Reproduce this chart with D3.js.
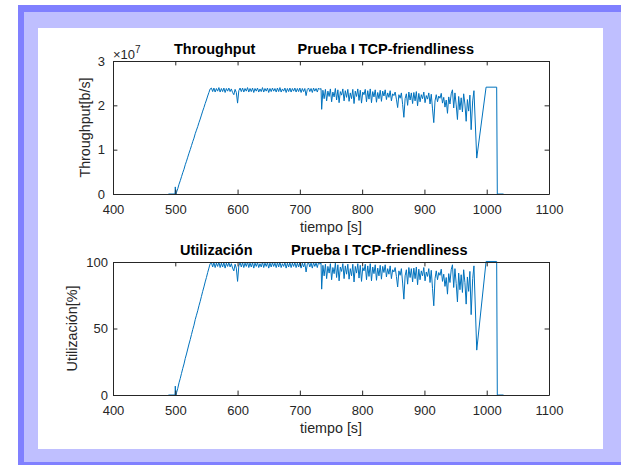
<!DOCTYPE html>
<html>
<head>
<meta charset="utf-8">
<script src="https://cdn.jsdelivr.net/npm/d3@7"></script>
<style>
  html, body { margin: 0; padding: 0; background: #fff; }
  svg { display: block; font-family: "Liberation Sans", Arial, Helvetica, sans-serif; }
</style>
</head>
<body>
<svg id="fig" width="621" height="465"></svg>
<script>
// Measured throughput of the TCP-friendliness test (time in s, rate in Mb/s)
const tiempo = [
  489, 499.5, 500, 501, 502, 504, 506, 508, 510, 512,
  514, 516, 518, 520, 522, 524, 526, 528, 530, 532,
  534, 536, 538, 540, 542, 544, 546, 548, 550, 552,
  554, 556, 558, 560, 562, 564, 566, 568, 570, 572,
  574, 576, 578, 580, 582, 584, 586, 588, 590, 592,
  594, 596, 598, 600, 602, 604, 606, 608, 610, 612,
  614, 616, 618, 620, 622, 624, 626, 628, 630, 632,
  634, 636, 638, 640, 642, 644, 646, 648, 650, 652,
  654, 656, 658, 660, 662, 664, 666, 668, 670, 672,
  674, 676, 678, 680, 682, 684, 686, 688, 690, 692,
  694, 696, 698, 700, 702, 704, 706, 708, 710, 712,
  714, 716, 718, 720, 722, 724, 726, 728, 730, 732,
  734, 735, 737, 739, 741, 743, 745, 747, 749, 751,
  753, 755, 757, 759, 761, 763, 765, 767, 769, 771,
  773, 775, 777, 779, 781, 783, 785, 787, 789, 791,
  793, 795, 797, 799, 801, 803, 805, 807, 809, 811,
  813, 815, 817, 819, 821, 823, 825, 827, 829, 831,
  833, 835, 837, 839, 841, 843, 845, 847, 849, 851,
  853, 855, 857, 859, 861, 863, 865, 867, 869, 871,
  873, 875, 877, 879, 881, 883, 885, 887, 889, 891,
  893, 895, 897, 899, 901, 903, 905, 907, 909, 911,
  913, 915, 917, 919, 921, 923, 925, 927, 929, 931,
  933, 935, 937, 939, 941, 943, 945, 947, 949, 951,
  953, 955, 957, 959, 961, 963, 965, 967, 969, 971,
  973, 975, 977.5, 979.5, 984, 999, 1016, 1017, 1027
];
const throughputMbps = [
  0, 0, 1.6, 0, 0.4, 1.2, 2.2, 3.0, 3.9, 4.8,
  5.6, 6.6, 7.4, 8.3, 9.2, 10.0, 10.9, 11.8, 12.6, 13.6,
  14.4, 15.2, 16.1, 16.9, 17.8, 18.7, 19.5, 20.4, 21.2, 22.1,
  22.9, 23.7, 23.9, 23.1, 23.9, 23.0, 23.8, 23.2, 24.0, 23.0,
  23.8, 23.1, 23.9, 22.9, 23.8, 23.2, 23.9, 23.1, 23.7, 22.9,
  22.4, 23.6, 22.9, 20.5, 23.3, 23.9, 23.1, 23.9, 23.0, 23.8,
  23.2, 24.0, 23.0, 23.8, 23.1, 23.9, 22.9, 23.8, 23.2, 23.9,
  23.0, 23.7, 23.1, 24.0, 23.0, 23.8, 23.2, 23.9, 22.9, 23.8,
  23.1, 23.9, 23.2, 23.8, 23.0, 23.9, 23.1, 24.0, 23.0, 23.7,
  23.2, 23.9, 22.9, 23.8, 23.1, 23.9, 23.0, 23.8, 23.2, 23.9,
  23.0, 23.8, 23.1, 23.9, 22.9, 23.8, 23.1, 23.8, 22.2, 23.6,
  23.9, 23.1, 23.8, 22.9, 23.9, 23.2, 23.8, 23.0, 23.9, 23.6,
  23.8, 19.1, 23.4, 21.5, 23.6, 21.0, 23.2, 22.0, 23.7, 20.8,
  23.0, 21.9, 23.8, 21.2, 23.5, 20.6, 23.1, 22.3, 23.7, 21.0,
  23.3, 21.8, 23.6, 20.9, 22.8, 21.5, 23.6, 20.4, 23.2, 22.0,
  23.7, 21.1, 23.4, 20.5, 23.0, 22.4, 23.6, 20.8, 23.3, 21.4,
  23.7, 20.6, 23.1, 21.9, 23.5, 20.7, 22.9, 21.5, 23.4, 20.9,
  23.2, 22.1, 23.5, 21.3, 22.8, 21.8, 23.3, 21.0, 22.6, 22.2,
  23.0, 21.4, 19.5, 22.4, 21.6, 22.8, 20.2, 17.3, 21.5, 22.6,
  20.0, 23.0, 21.2, 22.8, 20.4, 22.9, 21.0, 23.1, 19.9, 22.7,
  20.8, 22.4, 21.5, 23.0, 20.6, 22.2, 21.4, 22.8, 20.3, 22.5,
  19.2, 16.1, 21.0, 22.4, 20.8, 22.1, 21.6, 22.7, 20.5, 21.8,
  19.6, 21.2, 18.2, 21.9, 20.3, 22.6, 23.5, 19.4, 22.8, 20.1,
  16.8, 22.0, 19.0, 21.7, 18.5, 22.6, 20.3, 16.4, 21.3, 18.7,
  22.3, 14.5, 21.0, 23.3, 8.1, 24.1, 24.1, 0, 0
];
// Link capacity used for the utilisation plot
const capacidadMbps = 24;

const xTicks = [400, 500, 600, 700, 800, 900, 1000, 1100];
const yTicksThroughput = [0, 1e7, 2e7, 3e7];
const yTicksUtil = [0, 50, 100];

const serie = tiempo.map((t, i) => ({ t, bps: throughputMbps[i] * 1e6, util: throughputMbps[i] / capacidadMbps * 100 }));

const ink = "#262626";
const svg = d3.select("#fig");

// figure frame
svg.append("rect").attr("x", 18).attr("y", 5).attr("width", 603).attr("height", 460).attr("fill", "#8080ff");
svg.append("rect").attr("x", 24).attr("y", 12).attr("width", 597).attr("height", 450).attr("fill", "#bfbfff");
svg.append("rect").attr("x", 38).attr("y", 28).attr("width", 565).attr("height", 421).attr("fill", "#ffffff");

const x = d3.scaleLinear().domain([400, 1100]).range([113, 549]);
const tick = 4.4;

const panels = [
  { top: 61, bottom: 194, domain: [0, 3e7], ticks: yTicksThroughput, fmt: d => String(d / 1e7), key: "bps",
    title: ["Throughput", "Prueba I TCP-friendliness"], titleX: [174, 297.5],
    ylabel: "Throughput[b/s]", ylabelX: 90, ypad: 8 },
  { top: 262, bottom: 395, domain: [0, 100], ticks: yTicksUtil, fmt: d => String(d), key: "util",
    title: ["Utilización", "Prueba I TCP-friendliness"], titleX: [180, 291],
    ylabel: "Utilización[%]", ylabelX: 77, ypad: 5 }
];

function styleAxis(g) {
  g.select(".domain").attr("stroke", ink).attr("stroke-width", 1);
  g.selectAll(".tick line").attr("stroke", ink).attr("stroke-width", 1);
  g.selectAll(".tick text").attr("fill", ink).attr("font-size", 13);
  g.attr("font-family", null);
}

panels.forEach((p, k) => {
  const y = d3.scaleLinear().domain(p.domain).range([p.bottom, p.top]);
  const g = svg.append("g");

  const clipId = "clip" + k;
  g.append("clipPath").attr("id", clipId)
    .append("rect").attr("x", 112).attr("y", p.top - 1.5).attr("width", 438).attr("height", p.bottom - p.top + 3);

  g.append("path")
    .datum(serie)
    .attr("clip-path", `url(#${clipId})`)
    .attr("fill", "none")
    .attr("stroke", "#0072bd")
    .attr("stroke-width", 1)
    .attr("stroke-linejoin", "round")
    .attr("d", d3.line().x(d => x(d.t)).y(d => y(d[p.key])));

  g.append("g").attr("transform", `translate(0,${p.bottom})`)
    .call(d3.axisBottom(x).tickValues(xTicks).tickSize(-tick).tickSizeOuter(0).tickPadding(11).tickFormat(d3.format("d")))
    .call(styleAxis);
  g.append("g").attr("transform", `translate(0,${p.top})`)
    .call(d3.axisTop(x).tickValues(xTicks).tickSize(-tick).tickSizeOuter(0).tickFormat(""))
    .call(styleAxis);
  g.append("g").attr("transform", `translate(113,0)`)
    .call(d3.axisLeft(y).tickValues(p.ticks).tickSize(-tick).tickSizeOuter(0).tickPadding(p.ypad).tickFormat(p.fmt))
    .call(styleAxis);
  g.append("g").attr("transform", `translate(549,0)`)
    .call(d3.axisRight(y).tickValues(p.ticks).tickSize(-tick).tickSizeOuter(0).tickFormat(""))
    .call(styleAxis);

  // titles
  p.title.forEach((s, i) => {
    g.append("text").attr("x", p.titleX[i]).attr("y", p.top - 7)
      .attr("font-size", 14.5).attr("font-weight", "bold").attr("fill", "#000").text(s);
  });

  g.append("text").attr("x", 331).attr("y", p.bottom + 38)
    .attr("text-anchor", "middle").attr("font-size", 14.3).attr("fill", ink).text("tiempo [s]");

  g.append("text").attr("transform", `translate(${p.ylabelX},${(p.top + p.bottom) / 2}) rotate(-90)`)
    .attr("text-anchor", "middle").attr("font-size", 14.3).attr("fill", ink).text(p.ylabel);
});

// exponent of the throughput axis
const ex = svg.append("text").attr("x", 113).attr("y", 58.5).attr("font-size", 13).attr("fill", ink);
ex.append("tspan").text("×10");
ex.append("tspan").attr("dy", -5.5).attr("font-size", 10).text("7");
</script>
</body>
</html>
